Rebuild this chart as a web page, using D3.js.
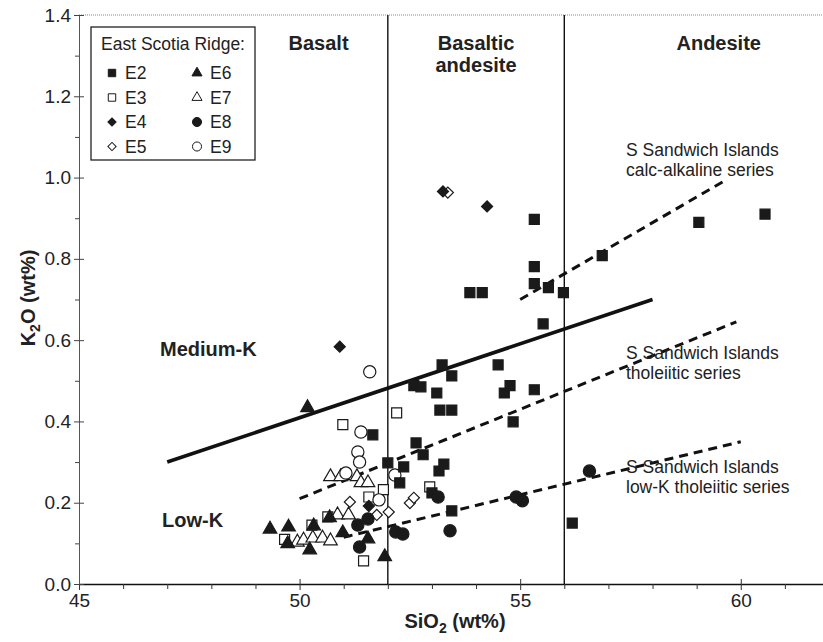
<!DOCTYPE html>
<html>
<head>
<meta charset="utf-8">
<script src="https://cdn.jsdelivr.net/npm/d3@7"></script>
<style>
body { margin: 0; background: #fff; }
svg { display: block; font-family: "Liberation Sans", Arial, sans-serif; }
</style>
</head>
<body>
<svg width="823" height="642"></svg>
<script>
// SiO2 (wt%), K2O (wt%) per sample group
const e2 = [[51.66, 0.367], [52.0, 0.298], [52.27, 0.249], [52.36, 0.288], [52.59, 0.488], [52.75, 0.485],
    [52.64, 0.347], [52.8, 0.318], [53.0, 0.224], [53.11, 0.470], [53.16, 0.278], [53.18, 0.428],
    [53.23, 0.539], [53.27, 0.295], [53.45, 0.512], [53.45, 0.428], [53.45, 0.18], [53.86, 0.717],
    [54.14, 0.717], [54.5, 0.539], [54.64, 0.470], [54.77, 0.488], [54.84, 0.399], [55.32, 0.897],
    [55.32, 0.781], [55.32, 0.739], [55.32, 0.478], [55.64, 0.729], [55.98, 0.717], [55.52, 0.64],
    [56.18, 0.15], [56.86, 0.808], [59.05, 0.89], [60.55, 0.91]];
const e3 = [[49.66, 0.11], [50.28, 0.145], [50.64, 0.165], [50.98, 0.392], [51.45, 0.057], [51.57, 0.214],
    [51.9, 0.232], [52.2, 0.421], [52.95, 0.239]];
const e4 = [[50.91, 0.584], [51.57, 0.192], [53.25, 0.966], [54.25, 0.929]];
const e5 = [[53.36, 0.963], [51.14, 0.202], [51.75, 0.170], [52.02, 0.177], [52.5, 0.199], [52.59, 0.212]];
const e6 = [[49.33, 0.135], [49.75, 0.14], [49.73, 0.099], [50.23, 0.084], [50.32, 0.143], [50.18, 0.434],
    [50.68, 0.163], [50.98, 0.126], [51.55, 0.111], [51.93, 0.067]];
const e7 = [[49.95, 0.103], [50.09, 0.108], [50.3, 0.113], [50.52, 0.113], [50.7, 0.106], [50.86, 0.17],
    [51.11, 0.17], [50.7, 0.264], [50.93, 0.264], [51.3, 0.264], [51.39, 0.249], [51.55, 0.249]];
const e8 = [[51.32, 0.145], [51.55, 0.16], [51.36, 0.091], [52.18, 0.128], [52.34, 0.123], [53.14, 0.214],
    [53.41, 0.131], [54.91, 0.214], [55.05, 0.205], [56.57, 0.278]];
const e9 = [[51.59, 0.522], [51.39, 0.374], [51.32, 0.325], [51.36, 0.30], [51.05, 0.273], [52.16, 0.268],
    [51.8, 0.207]];

// reference lines
const mediumKLine = [[47, 0.30], [58, 0.70]];
const calcAlkalineLine = [[55, 0.70], [59.6, 0.99]];
const tholeiiticLine = [[50, 0.21], [59.9, 0.645]];
const lowKTholeiiticLine = [[51, 0.115], [60, 0.35]];
const rockBoundaries = [52, 56];
const rockNames = ['Basalt', 'Basaltic|andesite', 'Andesite'];

const series = [
    { name: 'E2', shape: 'square', filled: true, data: e2 },
    { name: 'E3', shape: 'square', filled: false, data: e3 },
    { name: 'E4', shape: 'diamond', filled: true, data: e4 },
    { name: 'E5', shape: 'diamond', filled: false, data: e5 },
    { name: 'E6', shape: 'triangle', filled: true, data: e6 },
    { name: 'E7', shape: 'triangle', filled: false, data: e7 },
    { name: 'E8', shape: 'circle', filled: true, data: e8 },
    { name: 'E9', shape: 'circle', filled: false, data: e9 }
];

const svg = d3.select('svg');
const x = d3.scaleLinear().domain([45, 62]).range([79, 829]);
const y = d3.scaleLinear().domain([0, 1.4]).range([584, 15]);

const shapes = {
    square: { type: d3.symbolSquare, size: 100, rot: 0 },
    diamond: { type: d3.symbolSquare, size: 62, rot: 45 },
    triangle: { type: d3.symbolTriangle, size: 80, rot: 0 },
    circle: { type: d3.symbolCircle, size: 118, rot: 0 }
};
function symbolPath(shape, k) {
    const s = shapes[shape];
    return d3.symbol().type(s.type).size(s.size * k)();
}

// top frame line
svg.append('line')
    .attr('x1', x(45)).attr('x2', x(62))
    .attr('y1', y(1.4)).attr('y2', y(1.4))
    .attr('stroke', '#888').attr('stroke-width', 1).attr('stroke-dasharray', '1,1');

// rock field boundaries
svg.selectAll('.bound').data(rockBoundaries).enter().append('line')
    .attr('x1', d => x(d)).attr('x2', d => x(d))
    .attr('y1', y(0)).attr('y2', y(1.4))
    .attr('stroke', '#111').attr('stroke-width', 1.4);

// axes
const xAxis = svg.append('g').attr('transform', 'translate(0,' + y(0) + ')')
    .call(d3.axisBottom(x).tickValues(d3.range(45, 63)).tickSize(5).tickSizeOuter(0)
        .tickFormat(d => d % 5 === 0 ? d : ''));
xAxis.select('.domain').attr('stroke', '#111').attr('stroke-width', 1.6);
xAxis.selectAll('.tick line').attr('stroke', '#333').attr('stroke-width', 1)
    .filter(d => d % 5 === 0).attr('y1', -5).attr('y2', 6);
xAxis.selectAll('.tick text').attr('font-size', 19).attr('fill', '#222').attr('dy', '0.75em').attr('y', 9);

const yTicks = d3.range(0, 15).map(i => i / 10);
const yAxis = svg.append('g').attr('transform', 'translate(' + x(45) + ',0)')
    .call(d3.axisLeft(y).tickValues(yTicks).tickSize(4).tickSizeOuter(0)
        .tickFormat((d, i) => i % 2 === 0 ? d3.format('.1f')(d) : ''));
yAxis.select('.domain').attr('stroke', '#555').attr('stroke-width', 1);
yAxis.selectAll('.tick line').attr('stroke', '#444').attr('stroke-width', 1)
    .filter((d, i) => i % 2 === 0).attr('x1', 5).attr('x2', -5);
yAxis.selectAll('.tick text').attr('font-size', 19).attr('fill', '#222').attr('x', -8);

// axis titles
const xt = svg.append('text').attr('x', 455).attr('y', 628).attr('text-anchor', 'middle')
    .attr('font-size', 20).attr('font-weight', 'bold').attr('fill', '#222');
xt.append('tspan').text('SiO');
xt.append('tspan').attr('font-size', 14).attr('dy', 5).text('2');
xt.append('tspan').attr('dy', -5).text(' (wt%)');

const yt = svg.append('text').attr('transform', 'translate(35,' + 298 + ') rotate(-90)')
    .attr('text-anchor', 'middle').attr('font-size', 20).attr('font-weight', 'bold').attr('fill', '#222');
yt.append('tspan').text('K');
yt.append('tspan').attr('font-size', 14).attr('dy', 5).text('2');
yt.append('tspan').attr('dy', -5).text('O (wt%)');

// rock names
const rockCenters = [50.43, 54, 59.5];
rockNames.forEach((n, i) => {
    const t = svg.append('text').attr('text-anchor', 'middle').attr('font-size', 20)
        .attr('font-weight', 'bold').attr('fill', '#222');
    n.split('|').forEach((part, j) => {
        t.append('tspan').attr('x', x(rockCenters[i])).attr('y', 50 + j * 22).text(part);
    });
});

// trend lines
const line = d3.line().x(d => x(d[0])).y(d => y(d[1]));
svg.append('path').datum(mediumKLine).attr('d', line)
    .attr('stroke', '#111').attr('stroke-width', 3.6).attr('fill', 'none');
[calcAlkalineLine, tholeiiticLine, lowKTholeiiticLine].forEach(l => {
    svg.append('path').datum(l).attr('d', line)
        .attr('stroke', '#111').attr('stroke-width', 3).attr('stroke-dasharray', '9,6').attr('fill', 'none');
});

// field labels
svg.append('text').attr('x', 160).attr('y', 356).attr('font-size', 20).attr('font-weight', 'bold')
    .attr('fill', '#222').text('Medium-K');
svg.append('text').attr('x', 162).attr('y', 527).attr('font-size', 20).attr('font-weight', 'bold')
    .attr('fill', '#222').text('Low-K');

const seriesLabels = [
    ['S Sandwich Islands', 'calc-alkaline series', 156],
    ['S Sandwich Islands', 'tholeiitic series', 359],
    ['S Sandwich Islands', 'low-K tholeiitic series', 473]
];
seriesLabels.forEach(s => {
    const t = svg.append('text').attr('font-size', 17.5).attr('fill', '#222');
    t.append('tspan').attr('x', 626).attr('y', s[2]).text(s[0]);
    t.append('tspan').attr('x', 626).attr('y', s[2] + 20).text(s[1]);
});

// data points
const drawOrder = ['E3', 'E5', 'E7', 'E9', 'E2', 'E4', 'E6', 'E8'];
drawOrder.forEach(name => {
    const s = series.find(d => d.name === name);
    svg.append('g').selectAll('path').data(s.data).enter().append('path')
        .attr('d', symbolPath(s.shape, 1))
        .attr('transform', d => 'translate(' + x(d[0]) + ',' + y(d[1]) + ') rotate(' + shapes[s.shape].rot + ')')
        .attr('fill', s.filled ? '#1a1a1a' : '#fff')
        .attr('stroke', '#1a1a1a').attr('stroke-width', 1.2);
});

// legend
const legend = svg.append('g');
legend.append('rect').attr('x', 91).attr('y', 27).attr('width', 164).attr('height', 133)
    .attr('fill', '#fff').attr('stroke', '#222').attr('stroke-width', 1.3);
legend.append('text').attr('x', 173).attr('y', 50).attr('text-anchor', 'middle')
    .attr('font-size', 17.5).attr('fill', '#222').text('East Scotia Ridge:');
series.forEach((s, i) => {
    const col = Math.floor(i / 4);
    const row = i % 4;
    const cy = 73 + row * 24.5;
    const cx = 112 + col * 85;
    legend.append('path').attr('d', symbolPath(s.shape, 0.55))
        .attr('transform', 'translate(' + cx + ',' + cy + ') rotate(' + shapes[s.shape].rot + ')')
        .attr('fill', s.filled ? '#1a1a1a' : '#fff')
        .attr('stroke', '#1a1a1a').attr('stroke-width', 1);
    legend.append('text').attr('x', cx + 13).attr('y', cy + 6).attr('font-size', 17.5)
        .attr('fill', '#222').text(s.name);
});
</script>
</body>
</html>
